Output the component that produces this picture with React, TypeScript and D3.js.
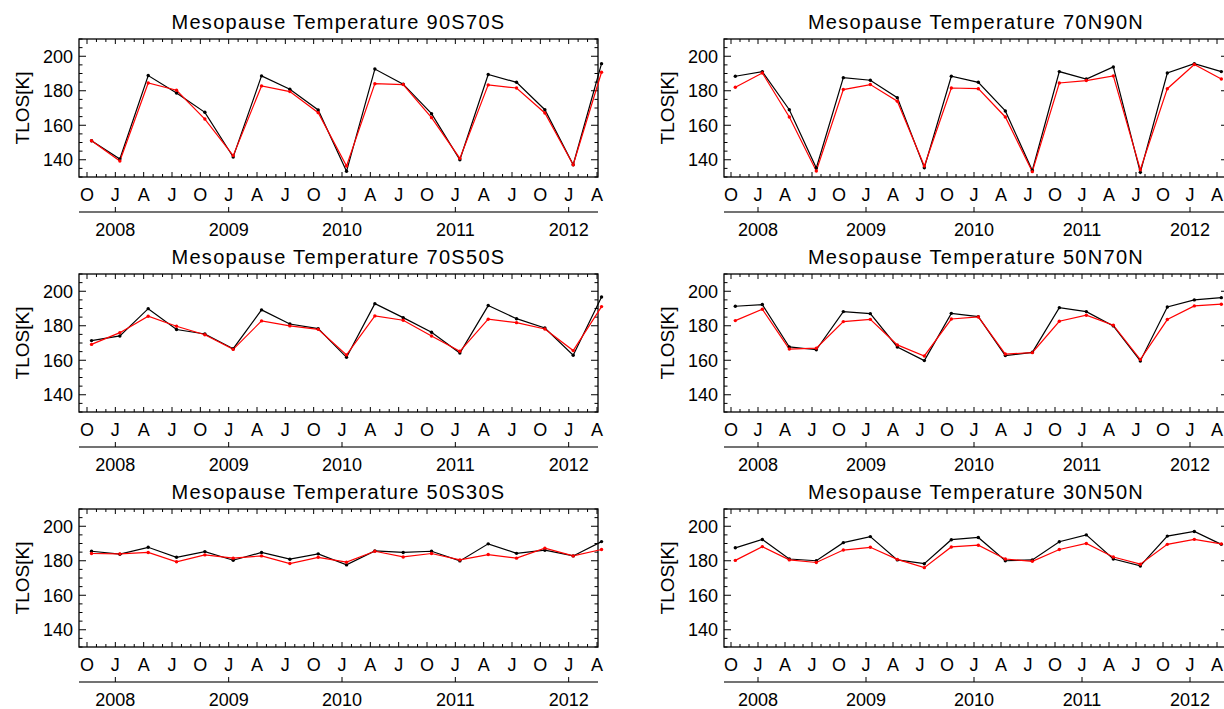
import React from "react";
import * as d3 from "d3";

const monthLetters = ["O", "J", "A", "J"];
const years = [2008, 2009, 2010, 2011, 2012];
const yTicks = [140, 160, 180, 200];

const titles = ["90S70S", "70N90N", "70S50S", "50N70N", "50S30S", "30N50N"];

const black90S70S = [151.0, 140.4, 188.8, 178.7, 167.5, 141.6, 188.6, 180.9, 168.9, 133.3, 192.6, 183.8, 166.7, 140.0, 189.4, 184.9, 169.0, 137.1, 195.7];
const red90S70S = [151.0, 139.3, 184.5, 180.3, 163.6, 142.4, 182.8, 179.5, 167.3, 136.4, 184.1, 183.6, 164.4, 140.8, 183.4, 181.6, 167.1, 137.1, 190.7];
const black70N90N = [188.4, 191.1, 169.0, 135.2, 187.6, 186.1, 176.0, 135.4, 188.4, 184.9, 168.3, 133.8, 191.1, 186.8, 193.8, 132.7, 190.3, 195.7, 191.1];
const red70N90N = [182.0, 190.3, 164.8, 133.5, 180.7, 183.6, 173.9, 136.4, 181.6, 181.2, 164.8, 133.1, 184.5, 185.9, 188.6, 134.2, 181.2, 195.2, 186.8];
const black70S50S = [171.4, 174.1, 189.9, 177.8, 175.2, 166.7, 189.2, 181.0, 178.3, 161.7, 192.8, 184.7, 176.2, 164.2, 191.7, 184.1, 178.7, 162.9, 196.7];
const red70S50S = [169.2, 176.0, 185.5, 179.7, 174.8, 166.3, 182.8, 179.9, 177.9, 163.1, 185.7, 183.2, 174.1, 165.2, 183.8, 181.8, 178.1, 165.6, 191.1];
const black50N70N = [191.3, 192.3, 167.7, 166.1, 188.2, 187.0, 167.7, 159.8, 187.2, 185.3, 162.7, 164.6, 190.5, 188.2, 179.9, 159.6, 190.9, 195.0, 196.3];
const red50N70N = [183.0, 189.6, 166.5, 167.0, 182.4, 183.7, 168.9, 162.5, 183.9, 185.1, 163.6, 164.4, 182.6, 186.1, 180.3, 160.4, 183.6, 191.5, 192.5];
const black50S30S = [185.5, 183.8, 187.8, 182.0, 185.3, 180.3, 184.8, 180.9, 184.0, 177.6, 185.7, 184.8, 185.5, 179.9, 189.8, 184.3, 186.1, 182.8, 191.1];
const red50S30S = [184.2, 184.0, 184.8, 179.4, 183.4, 181.5, 182.8, 178.4, 182.0, 179.2, 185.5, 182.2, 184.2, 180.5, 183.6, 181.5, 187.3, 182.8, 186.5];
const black30N50N = [187.5, 192.3, 181.0, 180.0, 190.5, 194.0, 180.5, 178.3, 192.2, 193.5, 180.0, 180.5, 191.0, 195.0, 181.0, 177.0, 194.3, 197.0, 189.5];
const red30N50N = [180.2, 188.2, 180.5, 179.0, 186.2, 187.8, 180.8, 176.0, 188.0, 189.0, 181.0, 179.7, 186.5, 190.0, 182.2, 178.0, 189.5, 192.4, 189.8];

const blackSeries = [black90S70S, black70N90N, black70S50S, black50N70N, black50S30S, black30N50N];
const redSeries = [red90S70S, red70N90N, red70S50S, red50N70N, red50S30S, red30N50N];

const FONT = "'Liberation Sans', Arial, sans-serif";

function Panel({ idx }: { idx: number }) {
  const col = idx % 2;
  const row = Math.floor(idx / 2);
  const x0 = col === 0 ? 79 : 724;
  const x1 = col === 0 ? 598 : 1228;
  const y0 = 39 + row * 235;
  const y1 = y0 + 138;
  const first = 2007.75;
  const last = 2012.25;
  const x = d3.scaleLinear().domain([first, last]).range(col === 0 ? [x0 + 8, x1 - 1] : [x0 + 7, 1217]);
  const y = d3.scaleLinear().domain([130, 210]).range([y1, y0]);
  const t0 = x.invert(x0), t1 = x.invert(x1);
  const months: number[] = [];
  for (let m = Math.ceil(t0 * 12); m <= Math.floor(t1 * 12); m++) months.push(m / 12);
  const quarters = d3.range(19).map((k) => first + k * 0.25);
  const minorY = d3.range(130, 211, 5);
  const times = quarters.map((q) => q + 0.04);
  const line = d3.line<number>().x((_, i) => x(times[i])).y((v) => y(v));
  const black = blackSeries[idx];
  const red = redSeries[idx];
  const axisY = y1 + 35;
  return (
    <g>
      <text x={(x0 + x1) / 2} y={y0 - 10} textAnchor="middle" fontSize={20} letterSpacing={1.3} fontFamily={FONT}>
        Mesopause Temperature {titles[idx]}
      </text>
      <rect x={x0} y={y0} width={x1 - x0} height={y1 - y0} fill="none" stroke="#000" strokeWidth={1.3} />
      {minorY.map((v) => {
        const major = v % 20 === 0;
        const l = major ? 7 : 3.5;
        return (
          <g key={v}>
            <line x1={x0} x2={x0 + l} y1={y(v)} y2={y(v)} stroke="#000" />
            <line x1={x1} x2={x1 - l} y1={y(v)} y2={y(v)} stroke="#000" />
          </g>
        );
      })}
      {yTicks.map((v) => (
        <text key={v} x={x0 - 6} y={y(v)} dy="0.35em" textAnchor="end" fontSize={18} fontFamily={FONT}>
          {v}
        </text>
      ))}
      <text transform={`translate(${x0 - 57},${(y0 + y1) / 2}) rotate(-90)`} textAnchor="middle" dy="0.35em" fontSize={19} fontFamily={FONT}>
        TLOS[K]
      </text>
      {months.map((m, i) => {
        const isQ = quarters.some((q) => Math.abs(q - m) < 1e-6);
        const l = isQ ? 5 : 3;
        return (
          <g key={i}>
            <line x1={x(m)} x2={x(m)} y1={y1} y2={y1 - l} stroke="#000" />
            <line x1={x(m)} x2={x(m)} y1={y0} y2={y0 + l} stroke="#000" />
          </g>
        );
      })}
      {quarters.map((q, k) => (
        <text key={k} x={x(q)} y={y1 + 18} dy="0.35em" textAnchor="middle" fontSize={18} fontFamily={FONT}>
          {monthLetters[k % 4]}
        </text>
      ))}
      <line x1={x0} x2={x1} y1={axisY} y2={axisY} stroke="#444" strokeWidth={1.3} />
      {years.map((yr) => (
        <g key={yr}>
          <line x1={x(yr)} x2={x(yr)} y1={axisY} y2={axisY - 5} stroke="#000" />
          <text x={x(yr)} y={axisY + 18} dy="0.35em" textAnchor="middle" fontSize={18} fontFamily={FONT}>
            {yr}
          </text>
        </g>
      ))}
      <path d={line(black) || ""} fill="none" stroke="#000" strokeWidth={1.2} />
      <path d={line(red) || ""} fill="none" stroke="#ff0000" strokeWidth={1.2} />
      {black.map((v, i) => (
        <circle key={"b" + i} cx={x(times[i])} cy={y(v)} r={1.7} fill="#000" />
      ))}
      {red.map((v, i) => (
        <circle key={"r" + i} cx={x(times[i])} cy={y(v)} r={1.7} fill="#ff0000" />
      ))}
    </g>
  );
}

export default function App() {
  return (
    <svg width={1224} height={709} style={{ position: "absolute", left: 0, top: 0, background: "#fff" }}>
      <rect width={1224} height={709} fill="#fff" />
      {d3.range(6).map((i) => (
        <Panel key={i} idx={i} />
      ))}
    </svg>
  );
}
